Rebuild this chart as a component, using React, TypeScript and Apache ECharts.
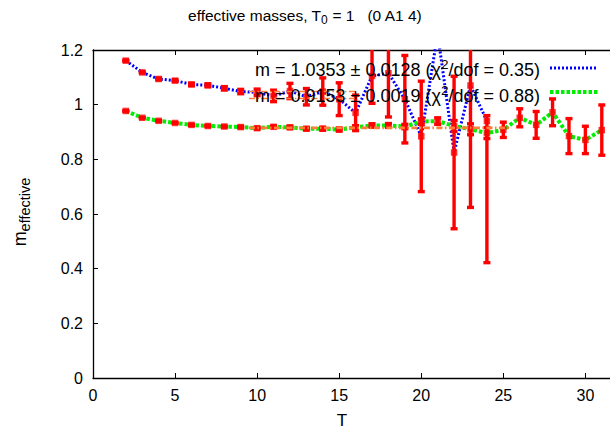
import React, { useEffect, useRef } from "react";
import * as echarts from "echarts";

// ---- data ----
const T_UPPER = [2, 3, 4, 5, 6, 7, 8, 9, 10, 11, 12, 13, 14, 15, 16, 17, 18, 19, 20, 21, 22, 23, 24];
const M_UPPER = [1.161, 1.118, 1.094, 1.088, 1.074, 1.071, 1.06, 1.048, 1.045, 1.032, 1.05, 1.029, 1.048, 1.02, 0.97, 1.105, 1.115, 1.02, 0.884, 1.26, 0.825, 1.07, 0.94];
const ERR_UPPER_MINUS = [0.002, 0.002, 0.003, 0.003, 0.004, 0.005, 0.006, 0.008, 0.012, 0.021, 0.028, 0.03, 0.05, 0.06, 0.065, 0.1, 0.16, 0.16, 0.202, 0.05, 0.279, 0.446, 0.518];
const ERR_UPPER_PLUS = [0.002, 0.002, 0.003, 0.003, 0.004, 0.005, 0.006, 0.008, 0.012, 0.021, 0.028, 0.03, 0.05, 0.06, 0.065, 0.1, 0.16, 0.16, 0.202, 0.05, 0.279, 0.446, 0.02];

const T_LOWER = [2, 3, 4, 5, 6, 7, 8, 9, 10, 11, 12, 13, 14, 15, 16, 17, 18, 19, 20, 21, 22, 23, 24, 25, 26, 27, 28, 29, 30, 31];
const M_LOWER = [0.977, 0.952, 0.941, 0.933, 0.926, 0.922, 0.92, 0.918, 0.914, 0.919, 0.917, 0.912, 0.912, 0.909, 0.917, 0.924, 0.924, 0.92, 0.938, 0.94, 0.922, 0.91, 0.896, 0.908, 0.952, 0.926, 0.972, 0.885, 0.871, 0.907];
const ERR_LOWER = [0.001, 0.001, 0.001, 0.001, 0.002, 0.002, 0.002, 0.003, 0.003, 0.003, 0.004, 0.004, 0.005, 0.005, 0.006, 0.006, 0.007, 0.008, 0.01, 0.012, 0.02, 0.02, 0.02, 0.028, 0.033, 0.049, 0.049, 0.064, 0.05, 0.092];

const FIT_M = [1.0353, 0.9153];
const FIT_ERR = [0.0128, 0.0019];
const FIT_CHI = [0.35, 0.88];
const FIT_FROM = [9.5, 9.5];
const FIT_TO = [16, 25.5];

const X_TICKS = [0, 5, 10, 15, 20, 25, 30];
const Y_TICKS = [0, 0.2, 0.4, 0.6, 0.8, 1, 1.2];

const FONT = "'Liberation Sans', Arial, Helvetica, sans-serif";
const RED = "#ff0000";
const BLUE = "#0000ff";
const GREEN = "#00ee00";
const ORANGE = "#ff7f3a";

export default function App() {
  const ref = useRef<HTMLDivElement>(null);

  useEffect(() => {
    if (!ref.current) return;
    const chart = echarts.init(ref.current, null, { renderer: "svg" });
    const yMin = Y_TICKS[0];
    const yMax = Y_TICKS[Y_TICKS.length - 1];

    const errorBars = (ts: number[], ms: number[], lo: number[], hi: number[]) =>
      ts.map((t, i) => [t, ms[i] - lo[i], ms[i] + hi[i]]);

    const renderErr = (params: any, api: any) => {
      const x = api.value(0);
      const lo = api.value(1);
      const hi = api.value(2);
      const loC = Math.max(lo, yMin);
      const hiC = Math.min(hi, yMax);
      if (loC >= hiC) return null;
      const pt = api.coord([x, hiC]);
      const pb = api.coord([x, loC]);
      const st = { stroke: RED, lineWidth: 3.4 };
      const children: any[] = [
        { type: "line", shape: { x1: pt[0], y1: pt[1], x2: pb[0], y2: pb[1] }, style: st },
      ];
      const cw = 3.5;
      if (hi <= yMax)
        children.push({ type: "line", shape: { x1: pt[0] - cw, y1: pt[1], x2: pt[0] + cw, y2: pt[1] }, style: st });
      if (lo >= yMin)
        children.push({ type: "line", shape: { x1: pb[0] - cw, y1: pb[1], x2: pb[0] + cw, y2: pb[1] }, style: st });
      return { type: "group", children };
    };

    const fitSeries: any[] = [];
    FIT_M.forEach((m, i) => {
      [m + FIT_ERR[i], m - FIT_ERR[i]].forEach((v) => {
        fitSeries.push({
          type: "line",
          data: [
            [FIT_FROM[i], v],
            [FIT_TO[i], v],
          ],
          symbol: "none",
          lineStyle: { color: ORANGE, width: 1.6, type: [6, 2.5, 1.5, 2.5] },
          z: 5,
          silent: true,
        });
      });
    });

    const legendText = (i: number) =>
      `{a|m = ${FIT_M[i].toFixed(4)} ± ${FIT_ERR[i].toFixed(4)} (χ}{s|2}{a|/dof = ${FIT_CHI[i].toFixed(2)})}`;
    const legendRich = {
      a: { fontFamily: FONT, fontSize: 18, fill: "#000", lineHeight: 26, verticalAlign: "middle" },
      s: { fontFamily: FONT, fontSize: 13.5, fill: "#000", lineHeight: 13, verticalAlign: "top" },
    };

    chart.setOption({
      animation: false,
      backgroundColor: "#ffffff",
      grid: { left: 93, right: -3, top: 50, bottom: 52, containLabel: false },
      xAxis: [
        {
          type: "value",
          min: 0,
          max: 31.5,
          interval: 5,
          axisLine: { show: true, lineStyle: { color: "#000", width: 1.3 } },
          axisTick: { show: true, inside: true, length: 5, lineStyle: { color: "#000", width: 1 } },
          axisLabel: {
            color: "#000",
            fontFamily: FONT,
            fontSize: 16,
            margin: 9,
            showMaxLabel: false,
            formatter: (v: number) => (X_TICKS.includes(v) ? String(v) : ""),
          },
          splitLine: { show: false },
        },
        {
          type: "value",
          position: "top",
          min: 0,
          max: 31.5,
          interval: 5,
          axisLine: { show: true, onZero: false, lineStyle: { color: "#000", width: 1.3 } },
          axisTick: { show: true, inside: true, length: 5, lineStyle: { color: "#000", width: 1 } },
          axisLabel: { show: false },
          splitLine: { show: false },
        },
      ],
      yAxis: {
        type: "value",
        min: yMin,
        max: yMax,
        interval: 0.2,
        axisLine: { show: true, lineStyle: { color: "#000", width: 1.3 } },
        axisTick: { show: true, inside: true, length: 5, lineStyle: { color: "#000", width: 1 } },
        axisLabel: {
          color: "#000",
          fontFamily: FONT,
          fontSize: 16,
          margin: 10,
          formatter: (v: number) => String(parseFloat(v.toFixed(1))),
        },
        splitLine: { show: false },
      },
      series: [
        {
          type: "line",
          data: T_UPPER.map((t, i) => [t, M_UPPER[i]]),
          symbol: "none",
          lineStyle: { color: BLUE, width: 3, type: [2, 2] },
          z: 2,
          silent: true,
        },
        {
          type: "line",
          data: T_LOWER.map((t, i) => [t, M_LOWER[i]]),
          symbol: "none",
          lineStyle: { color: GREEN, width: 4, type: [3.5, 2] },
          z: 2,
          silent: true,
        },
        {
          type: "custom",
          data: errorBars(T_UPPER, M_UPPER, ERR_UPPER_MINUS, ERR_UPPER_PLUS),
          renderItem: renderErr,
          encode: { x: 0, y: [1, 2] },
          z: 3,
          silent: true,
        },
        {
          type: "custom",
          data: errorBars(T_LOWER, M_LOWER, ERR_LOWER, ERR_LOWER),
          renderItem: renderErr,
          encode: { x: 0, y: [1, 2] },
          z: 3,
          silent: true,
        },
        {
          type: "scatter",
          data: T_UPPER.map((t, i) => [t, M_UPPER[i]]),
          symbol: "rect",
          symbolSize: 6.5,
          itemStyle: { color: RED },
          z: 4,
          silent: true,
        },
        {
          type: "scatter",
          data: T_LOWER.map((t, i) => [t, M_LOWER[i]]),
          symbol: "rect",
          symbolSize: 6.5,
          itemStyle: { color: RED },
          z: 4,
          silent: true,
        },
        ...fitSeries,
      ],
      graphic: [
        {
          type: "text",
          x: 305,
          y: 15,
          style: {
            text: "{a|effective masses, T}{b|0}{a| = 1   (0 A1 4)}",
            align: "center",
            verticalAlign: "middle",
            rich: {
              a: { fontFamily: FONT, fontSize: 15.5, fill: "#000", lineHeight: 22, verticalAlign: "middle" },
              b: { fontFamily: FONT, fontSize: 12, fill: "#000", lineHeight: 11, verticalAlign: "bottom" },
            },
          },
          z: 10,
        },
        {
          type: "text",
          x: 342,
          y: 420,
          style: { text: "T", font: `17px ${FONT}`, fill: "#000", align: "center", verticalAlign: "middle" },
        },
        {
          type: "text",
          x: 20,
          y: 212,
          rotation: Math.PI / 2,
          style: {
            text: "{a|m}{b|effective}",
            align: "center",
            verticalAlign: "middle",
            rich: {
              a: { fontFamily: FONT, fontSize: 18, fill: "#000", lineHeight: 24, verticalAlign: "middle" },
              b: { fontFamily: FONT, fontSize: 14.5, fill: "#000", lineHeight: 13, verticalAlign: "bottom" },
            },
          },
        },
        {
          type: "text",
          x: 540,
          y: 70,
          style: { text: legendText(0), rich: legendRich, align: "right", verticalAlign: "middle" },
          z: 10,
        },
        {
          type: "text",
          x: 540,
          y: 96,
          style: { text: legendText(1), rich: legendRich, align: "right", verticalAlign: "middle" },
          z: 10,
        },
        {
          type: "line",
          shape: { x1: 550, y1: 68, x2: 598, y2: 68 },
          style: { stroke: BLUE, lineWidth: 3, lineDash: [2, 2] },
          z: 10,
        },
        {
          type: "line",
          shape: { x1: 550, y1: 92, x2: 598, y2: 92 },
          style: { stroke: GREEN, lineWidth: 4, lineDash: [3.5, 2] },
          z: 10,
        },
      ],
    });

    return () => chart.dispose();
  }, []);

  return (
    <div
      ref={ref}
      style={{ position: "fixed", left: 0, top: 0, width: 610, height: 430, background: "#fff" }}
    />
  );
}
